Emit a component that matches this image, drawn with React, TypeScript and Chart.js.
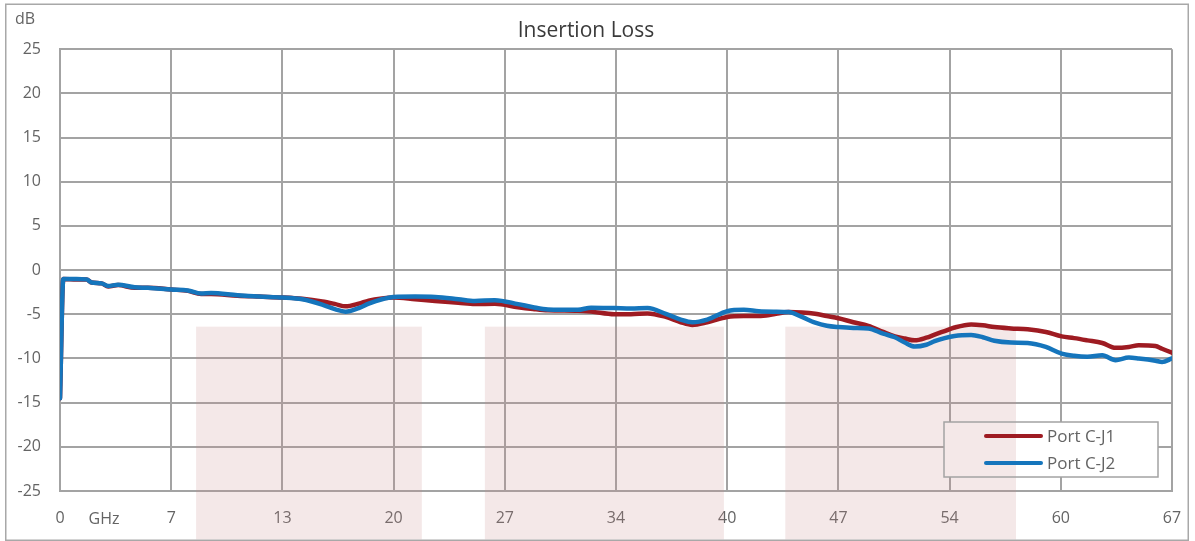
import React, { useEffect, useRef } from 'react';
import { Chart, registerables } from 'chart.js';

Chart.register(...registerables);

// ---- data ----
const freqGHz = [
  0, 0.2, 1.0, 1.6, 1.9, 2.5, 2.9, 3.5, 4.5, 5.3, 6.7, 7.7, 8.5, 9.1, 10.7, 12.0, 13.4, 14.6, 15.8, 16.6,
  17.2, 18.0, 18.6, 19.4, 20.1, 21.4, 22.6, 24.0, 25.0, 26.2, 27.6, 28.5, 29.4, 31.2, 32.0, 33.4, 34.4, 35.4,
  36.5, 37.4, 38.1, 39.0, 40.2, 41.2, 42.1, 43.0, 43.9, 44.7, 45.5, 46.2, 46.9, 47.8, 48.7, 49.6, 50.3, 50.9,
  51.5, 52.2, 52.7, 53.3, 53.9, 54.9, 55.6, 56.3, 57.3, 58.3, 59.4, 60.35, 61.1, 61.9, 62.8, 63.6, 64.4, 65.0,
  66.0, 66.4, 67.0,
];

const portCJ1 = [
  -14.5, -1.0, -1.05, -1.05, -1.4, -1.5, -1.85, -1.7, -2.0, -2.0, -2.2, -2.35, -2.7, -2.7, -2.9, -3.0, -3.1, -3.25, -3.55, -3.85,
  -4.1, -3.8, -3.45, -3.2, -3.1, -3.3, -3.5, -3.7, -3.85, -3.8, -4.2, -4.4, -4.55, -4.6, -4.7, -5.0, -5.0, -4.9,
  -5.3, -5.9, -6.2, -5.9, -5.3, -5.2, -5.2, -5.0, -4.75, -4.8, -4.95, -5.2, -5.45, -5.9, -6.3, -7.0, -7.5, -7.75,
  -7.95, -7.65, -7.3, -6.9, -6.5, -6.15, -6.25, -6.45, -6.6, -6.7, -7.0, -7.5, -7.7, -7.95, -8.25, -8.8, -8.7, -8.5,
  -8.6, -8.9, -9.35,
];

const portCJ2 = [
  -14.5, -1.0, -1.0, -1.05, -1.4, -1.5, -1.8, -1.65, -1.95, -2.0, -2.2, -2.3, -2.65, -2.6, -2.85, -3.0, -3.1, -3.3, -3.9, -4.45,
  -4.7, -4.3, -3.8, -3.3, -3.05, -3.0, -3.05, -3.3, -3.5, -3.4, -3.85, -4.2, -4.45, -4.5, -4.25, -4.3, -4.35, -4.3,
  -4.95, -5.6, -5.9, -5.6, -4.65, -4.5, -4.65, -4.7, -4.75, -5.3, -5.95, -6.3, -6.45, -6.55, -6.6, -7.2, -7.6, -8.2,
  -8.65, -8.45, -8.05, -7.7, -7.45, -7.35, -7.6, -8.0, -8.2, -8.25, -8.7, -9.45, -9.7, -9.8, -9.65, -10.2, -9.9, -10.0,
  -10.25, -10.4, -10.0,
];

const seriesLabels = ['Port C-J1', 'Port C-J2'];
const seriesColors = ['#9E1B22', '#1575BC'];

const xTickLabels = ['0', '7', '13', '20', '27', '34', '40', '47', '54', '60', '67'];
const xMin = 0;
const xMax = 67;
const yMin = -25;
const yMax = 25;
const yStep = 5;

const bandStartGHz = [8.2, 25.6, 43.7];
const bandEndGHz = [21.8, 40.0, 57.6];
const bandTopDb = -6.4;

const titleText = 'Insertion Loss';
const yUnit = 'dB';
const xUnit = 'GHz';

const FONT = "'Open Sans', 'DejaVu Sans', sans-serif";
const TEXT = '#646464';
const GRID = '#a3a3a3';

const decorPlugin = {
  id: 'decor',
  beforeDatasetsDraw(chart: any) {
    const { ctx, chartArea } = chart;
    const x = chart.scales.x;
    const y = chart.scales.y;
    ctx.save();
    // legend background (hides grid)
    const lx = chartArea.right - 228;
    const ly = chartArea.bottom - 69;
    ctx.fillStyle = '#ffffff';
    ctx.fillRect(lx, ly, 214, 55);
    // shaded bands
    ctx.fillStyle = 'rgba(200,140,140,0.2)';
    const top = y.getPixelForValue(bandTopDb);
    const bottom = chart.height - 1.5;
    bandStartGHz.forEach((s, i) => {
      const l = x.getPixelForValue(s);
      const r = x.getPixelForValue(bandEndGHz[i]);
      ctx.fillRect(l, top, r - l, bottom - top);
    });
    ctx.restore();
  },
  afterDraw(chart: any) {
    const { ctx, chartArea } = chart;
    const x = chart.scales.x;
    ctx.save();
    // outer border
    ctx.strokeStyle = '#a8a8a8';
    ctx.lineWidth = 1.5;
    ctx.strokeRect(5.75, 4.25, chart.width - 12.5, chart.height - 5);
    // unit labels
    ctx.fillStyle = TEXT;
    ctx.font = `16px ${FONT}`;
    ctx.textBaseline = 'middle';
    ctx.textAlign = 'left';
    ctx.fillText(yUnit, 15, 19);
    ctx.textAlign = 'center';
    ctx.fillText(xUnit, x.getPixelForValue(xMin) + 44, chartArea.bottom + 28);
    // legend
    const lx = chartArea.right - 228;
    const ly = chartArea.bottom - 69;
    ctx.strokeStyle = '#a3a3a3';
    ctx.lineWidth = 1.5;
    ctx.strokeRect(lx, ly, 214, 55);
    ctx.font = `17px ${FONT}`;
    ctx.textAlign = 'left';
    chart.data.datasets.forEach((ds: any, i: number) => {
      const cy = ly + 14 + i * 27;
      ctx.strokeStyle = ds.borderColor;
      ctx.lineWidth = 4;
      ctx.lineCap = 'round';
      ctx.beginPath();
      ctx.moveTo(lx + 42, cy);
      ctx.lineTo(lx + 97, cy);
      ctx.stroke();
      ctx.fillStyle = TEXT;
      ctx.fillText(ds.label, lx + 103, cy + 1);
    });
    ctx.restore();
  },
};

export default function App() {
  const ref = useRef<HTMLCanvasElement | null>(null);

  useEffect(() => {
    const canvas = ref.current;
    if (!canvas) return;
    const seriesValues = [portCJ1, portCJ2];
    const chart = new Chart(canvas, {
      type: 'line',
      data: {
        datasets: seriesValues.map((vals, i) => ({
          label: seriesLabels[i],
          data: freqGHz.map((f, j) => ({ x: f, y: vals[j] })),
          borderColor: seriesColors[i],
          backgroundColor: seriesColors[i],
          borderWidth: 4.5,
          pointRadius: 0,
          fill: false,
          order: seriesValues.length - 1 - i,
          cubicInterpolationMode: 'monotone',
          borderCapStyle: 'round',
          borderJoinStyle: 'round',
        })),
      },
      options: {
        animation: false,
        responsive: false,
        devicePixelRatio: 1,
        layout: { padding: { left: 0, right: 23, top: 0, bottom: 0 } },
        plugins: {
          legend: { display: false },
          tooltip: { enabled: false },
          title: {
            display: true,
            text: titleText,
            color: '#3a3a3a',
            font: { family: FONT, size: 21, weight: 'normal' },
            padding: { top: 18, bottom: 6 },
          },
        },
        scales: {
          x: {
            type: 'linear',
            min: xMin,
            max: xMax,
            afterBuildTicks: (scale: any) => {
              scale.ticks = xTickLabels.map((_, i) => ({ value: xMin + ((xMax - xMin) * i) / (xTickLabels.length - 1) }));
            },
            afterFit: (scale: any) => {
              scale.height = 50;
            },
            ticks: {
              autoSkip: false,
              maxRotation: 0,
              padding: 3,
              color: TEXT,
              font: { family: FONT, size: 16 },
              callback: (_v: any, i: number) => xTickLabels[i],
            },
            grid: { color: GRID, lineWidth: 2, drawTicks: true, tickLength: 15, tickColor: 'rgba(0,0,0,0)' },
            border: { color: GRID, width: 2 },
          },
          y: {
            min: yMin,
            max: yMax,
            afterFit: (scale: any) => {
              scale.width = 60;
            },
            ticks: {
              stepSize: yStep,
              padding: 19,
              color: TEXT,
              font: { family: FONT, size: 16 },
            },
            grid: { color: GRID, lineWidth: 2, drawTicks: false },
            border: { color: GRID, width: 2 },
          },
        },
      },
      plugins: [decorPlugin],
    } as any);
    return () => chart.destroy();
  }, []);

  return (
    <div style={{ position: 'absolute', left: 0, top: 0, width: 1195, height: 541, background: '#fff' }}>
      <canvas ref={ref} width={1195} height={541} style={{ display: 'block' }} />
    </div>
  );
}
